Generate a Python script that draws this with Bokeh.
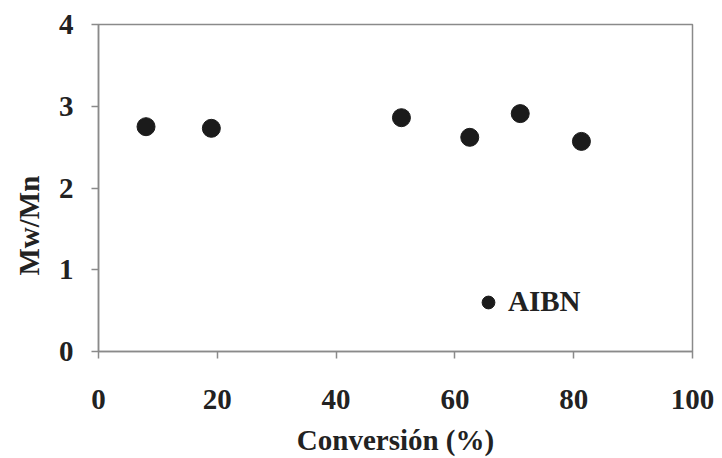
import math
from bokeh.plotting import figure
from bokeh.models import Range1d, Title, Legend, LegendItem, FixedTicker
from bokeh.embed import file_html
from bokeh.resources import INLINE

conversion = [8, 19, 51, 62.5, 71, 81.3]
mw_mn = [2.75, 2.73, 2.86, 2.62, 2.91, 2.57]
series_name = "AIBN"
x_ticks = [0, 20, 40, 60, 80, 100]
y_ticks = [0, 1, 2, 3, 4]

FONT = "Liberation Serif"
TXT = "#222222"
AX = "#8a8a8a"

p = figure(width=722, height=458, output_backend="svg", toolbar_location=None,
           x_range=Range1d(0, 100), y_range=Range1d(0, 4),
           min_border_left=97, min_border_right=30, min_border_top=24, min_border_bottom=107)
p.background_fill_color = "white"
p.border_fill_color = "white"
p.outline_line_color = AX
p.outline_line_width = 1.5
p.xgrid.visible = False
p.ygrid.visible = False

for ax in (p.xaxis[0], p.yaxis[0]):
    ax.axis_line_color = AX
    ax.axis_line_width = 1.5
    ax.major_tick_line_color = AX
    ax.major_tick_line_width = 1.5
    ax.major_tick_in = 0
    ax.major_tick_out = 7
    ax.minor_tick_line_color = None
    ax.major_label_text_font = FONT
    ax.major_label_text_font_style = "bold"
    ax.major_label_text_font_size = "29px"
    ax.major_label_text_color = TXT

p.xaxis.ticker = FixedTicker(ticks=x_ticks)
p.yaxis.ticker = FixedTicker(ticks=y_ticks)
p.xaxis.major_label_standoff = 31
p.yaxis.major_label_standoff = 18

p.xaxis.axis_label = "Conversión (%)"
p.xaxis.axis_label_text_font = FONT
p.xaxis.axis_label_text_font_style = "bold"
p.xaxis.axis_label_text_font_size = "29px"
p.xaxis.axis_label_text_color = TXT
p.xaxis.axis_label_standoff = 12

ytitle = Title(text="Mw/Mn", align="left", offset=76, standoff=21,
               text_font=FONT, text_font_style="bold", text_font_size="29px",
               text_color=TXT)
p.add_layout(ytitle, "left")

r = p.scatter(conversion, mw_mn, size=18, color="#1b1b1b")

legend = Legend(items=[LegendItem(label=series_name, renderers=[r])],
                location=(374, 33), padding=0, margin=0, spacing=0,
                glyph_width=32, glyph_height=32, label_standoff=4,
                border_line_color=None, background_fill_alpha=0,
                label_text_font=FONT, label_text_font_style="bold",
                label_text_font_size="29px", label_text_color=TXT)
p.add_layout(legend)

open("out.html", "w").write(file_html(p, INLINE))
